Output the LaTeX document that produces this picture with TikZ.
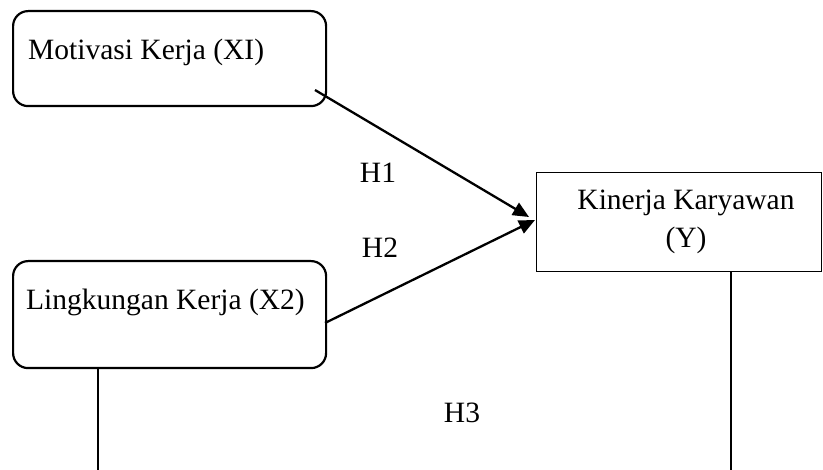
\documentclass[tikz,border=0pt]{standalone}
\usepackage{fontspec}
\setmainfont{Liberation Serif}
\usetikzlibrary{arrows.meta,calc}
\begin{document}
\begin{tikzpicture}[x=1pt,y=-1pt,
  rbox/.style={draw,line width=2.2pt,rounded corners=15pt,inner sep=0pt,anchor=north west},
  sbox/.style={draw,line width=1.4pt,inner sep=0pt,anchor=north west},
  lbl/.style={font=\fontsize{29.5}{34}\selectfont,inner sep=0pt},
  arr/.style={line width=2.3pt,-{Triangle[length=16pt,width=14pt]}},
  vline/.style={line width=1.5pt}]
\useasboundingbox (0,0) rectangle (823,470);
\node[rbox,minimum width=313pt,minimum height=95pt] (m) at (12,10) {};
\node[rbox,minimum width=313pt,minimum height=107pt] (l) at (12,260) {};
\node[sbox,minimum width=285pt,minimum height=99pt] (k) at (536,172) {};
\node[lbl,anchor=base west] (mt) at (28,60) {Motivasi Kerja (XI)};
\node[lbl,anchor=base west] (lt) at (26,310) {Lingkungan Kerja (X2)};
\node[lbl,anchor=base] (kt) at (686,210) {Kinerja Karyawan};
\node[lbl,anchor=base] (ky) at (686,248) {(Y)};
\node[lbl] (h1) at (378,173) {H1};
\node[lbl] (h2) at (380,248) {H2};
\node[lbl] (h3) at (462,413) {H3};
\coordinate (s1) at (315,90);
\coordinate (t1) at (529,217);
\coordinate (s2) at (325,323);
\coordinate (t2) at (535,220);
\draw[arr] (s1) -- (t1);
\draw[arr] (s2) -- (t2);
\coordinate (yb) at (731,470);
\coordinate (lb) at (98,470);
\draw[vline] (k.south west -| yb) -- (yb);
\draw[vline] (l.south west -| lb) -- (lb);
\end{tikzpicture}
\end{document}
